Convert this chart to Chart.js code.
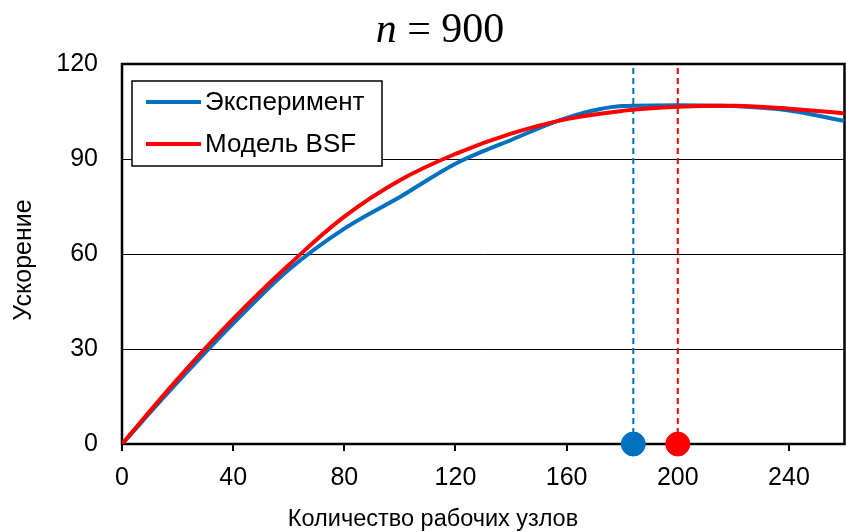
<!DOCTYPE html>
<html>
<head>
<meta charset="utf-8">
<script src="https://cdn.jsdelivr.net/npm/chart.js@4/dist/chart.umd.min.js"></script>
<style>
  html, body { margin: 0; padding: 0; background: #fff; overflow: hidden; }
  #wrap { position: relative; width: 846px; height: 532px; }
  canvas { display: block; }
</style>
</head>
<body>
<div id="wrap"><canvas id="view-canvas"></canvas></div>
<script>
// data
var nodes = [0, 20, 40, 60, 80, 100, 120, 140, 160, 180, 200, 220, 240, 260];
var speedupExp = [0, 19.5, 38, 55, 68, 78, 88.5, 96, 103, 106.7, 107, 106.7, 105.3, 102];
var speedupBsf = [0, 20.5, 39.5, 56.5, 71.8, 83.3, 91.6, 98, 102.6, 105.2, 106.5, 106.8, 105.9, 104.4];
var peakExp = 184;
var peakBsf = 200;
var seriesNames = ['Эксперимент', 'Модель BSF'];
var titleVar = 'n';
var titleRest = ' = 900';
var xTitle = 'Количество рабочих узлов';
var yTitle = 'Ускорение';

var blue = 'rgb(0, 112, 192)';
var red = 'rgb(255, 0, 0)';
var font = '"Liberation Sans", Arial, sans-serif';

function toPoints(xs, ys) {
    var data = [];
    xs.forEach(function (x, i) {
        data.push({ x: x, y: ys[i] });
    });
    return data;
}

// title, axis titles, frame and legend
var decor = {
    id: 'decor',
    beforeDatasetsDraw: function (chart) {
        var ctx = chart.ctx;
        var a = chart.chartArea;
        ctx.save();
        ctx.strokeStyle = '#000';
        ctx.lineWidth = 2.5;
        ctx.strokeRect(a.left, a.top, a.right - a.left, a.bottom - a.top);
        ctx.restore();
    },
    afterDraw: function (chart) {
        var ctx = chart.ctx;
        ctx.save();
        ctx.fillStyle = '#000';
        ctx.textBaseline = 'alphabetic';

        // chart title
        ctx.font = 'italic 42px "Liberation Serif", "Times New Roman", serif';
        var w1 = ctx.measureText(titleVar).width;
        ctx.font = '42px "Liberation Serif", "Times New Roman", serif';
        var w2 = ctx.measureText(titleRest).width;
        var tx = 440 - (w1 + w2) / 2;
        ctx.font = 'italic 42px "Liberation Serif", "Times New Roman", serif';
        ctx.textAlign = 'left';
        ctx.fillText(titleVar, tx, 42);
        ctx.font = '42px "Liberation Serif", "Times New Roman", serif';
        ctx.fillText(titleRest, tx + w1, 42);

        // axis titles
        ctx.font = '23.5px ' + font;
        ctx.textAlign = 'center';
        ctx.fillText(xTitle, 433, 526);
        ctx.font = '25px ' + font;
        ctx.save();
        ctx.translate(31, 260);
        ctx.rotate(-Math.PI / 2);
        ctx.fillText(yTitle, 0, 0);
        ctx.restore();

        // legend box
        ctx.fillStyle = '#fff';
        ctx.fillRect(132, 81, 250, 85);
        ctx.strokeStyle = '#000';
        ctx.lineWidth = 1.5;
        ctx.strokeRect(132, 81, 250, 85);
        var colors = [blue, red];
        var ys = [102, 144];
        ctx.textAlign = 'left';
        ctx.textBaseline = 'middle';
        ctx.font = '26px ' + font;
        seriesNames.forEach(function (name, i) {
            ctx.strokeStyle = colors[i];
            ctx.lineWidth = 4;
            ctx.beginPath();
            ctx.moveTo(146, ys[i]);
            ctx.lineTo(201, ys[i]);
            ctx.stroke();
            ctx.fillStyle = '#000';
            ctx.fillText(name, 205, ys[i] + 1);
        });
        ctx.restore();
    }
};

var canvas = document.getElementById('view-canvas');

var myChart = new Chart(canvas, {
    type: 'scatter',
    data: {
        datasets: [
            {
                label: 'peak exp',
                data: [{ x: peakExp, y: 0 }],
                backgroundColor: blue,
                borderColor: blue,
                pointRadius: 12,
                clip: false
            },
            {
                label: 'peak bsf',
                data: [{ x: peakBsf, y: 0 }],
                backgroundColor: red,
                borderColor: red,
                pointRadius: 12,
                clip: false
            },
            {
                label: seriesNames[1],
                data: toPoints(nodes, speedupBsf),
                showLine: true,
                borderColor: red,
                borderWidth: 4,
                pointRadius: 0,
                tension: 0.4
            },
            {
                label: seriesNames[0],
                data: toPoints(nodes, speedupExp),
                showLine: true,
                borderColor: blue,
                borderWidth: 4,
                pointRadius: 0,
                cubicInterpolationMode: 'monotone'
            },
            {
                label: 'exp line',
                data: [{ x: peakExp, y: 0 }, { x: peakExp, y: 120 }],
                showLine: true,
                borderColor: blue,
                borderWidth: 2,
                borderDash: [6, 4],
                pointRadius: 0
            },
            {
                label: 'bsf line',
                data: [{ x: peakBsf, y: 0 }, { x: peakBsf, y: 120 }],
                showLine: true,
                borderColor: red,
                borderWidth: 2,
                borderDash: [6, 4],
                pointRadius: 0
            }
        ]
    },
    options: {
        responsive: true,
        maintainAspectRatio: false,
        animation: false,
        // big dots would otherwise make chart.js pad the plot area
        layout: { autoPadding: false, padding: { top: 64, right: 1.5, left: 0, bottom: 0 } },
        plugins: {
            legend: { display: false },
            tooltip: { enabled: false }
        },
        scales: {
            x: {
                type: 'linear',
                min: 0,
                max: 260,
                border: { display: false },
                grid: {
                    drawOnChartArea: false,
                    drawTicks: true,
                    tickLength: 7,
                    color: '#000',
                    lineWidth: 2
                },
                ticks: {
                    stepSize: 40,
                    includeBounds: false,
                    padding: 12,
                    color: '#000',
                    font: { family: font, size: 25 }
                },
                afterFit: function (scale) {
                    scale.height = 88;
                }
            },
            y: {
                min: 0,
                max: 120,
                border: { display: false },
                grid: {
                    drawTicks: false,
                    color: '#000',
                    lineWidth: 1
                },
                ticks: {
                    stepSize: 30,
                    padding: 24,
                    color: '#000',
                    font: { family: font, size: 25 }
                },
                afterFit: function (scale) {
                    scale.width = 122;
                }
            }
        }
    },
    plugins: [decor]
});
</script>
</body>
</html>
